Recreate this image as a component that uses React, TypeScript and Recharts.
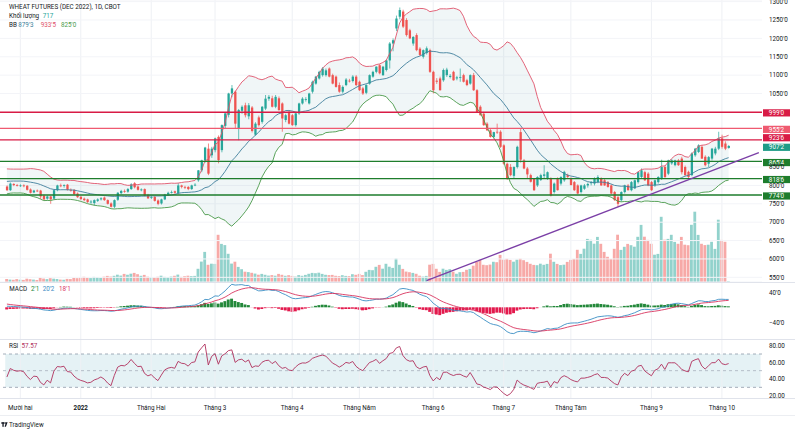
import React from 'react';
import {
  ComposedChart, Bar, Line, Area, XAxis, YAxis, CartesianGrid,
  ReferenceLine, ReferenceArea, Cell
} from 'recharts';

const FONT = "Roboto, 'Liberation Sans', Arial, sans-serif";
const FS = 6.3;
const TXT = '#131722';
const UP = '#26a69a';
const DN = '#ef5350';
const SLOTS = 225;
const PAD = { left: 5.22, right: 1.48 };

// giá đóng cửa trước vùng nhìn thấy (chỉ để chỉ báo có lịch sử)
const warmupCloses = [
  762, 768, 771, 766, 774, 779, 776, 783, 780, 786,
  792, 788, 784, 779, 783, 787, 790, 796, 801, 798,
  806, 812, 809, 818, 824, 829, 838, 844, 840, 826,
  812, 804, 798, 792, 795,
];

const opens = [
  797, 787, 804, 801, 799, 800, 799, 789, 781, 786,
  786, 772, 764, 770, 764, 787, 800, 799, 802, 788,
  788, 778, 769, 764, 762, 755, 752, 758, 762, 767,
  760, 751, 742, 761, 779, 785, 783, 790, 806, 797,
  788, 790, 774, 766, 769, 759, 751, 762, 775, 781,
  784, 779, 800, 796, 796, 790, 801, 814, 841, 868,
  900, 882, 896, 932, 896, 962, 992, 1050, 1055, 955,
  1003, 1018, 988, 1012, 938, 985, 973, 1009, 1036, 1037,
  1014, 1037, 1023, 978, 1000, 991, 964, 996, 1023, 1033,
  1023, 1055, 1077, 1091, 1100, 1100, 1118, 1100, 1096, 1073,
  1055, 1073, 1085, 1084, 1096, 1082, 1064, 1052, 1077, 1096,
  1109, 1127, 1100, 1114, 1140, 1186, 1227, 1259, 1273, 1250,
  1222, 1186, 1209, 1172, 1150, 1160, 1168, 1109, 1085, 1091,
  1086, 1100, 1095, 1109, 1091, 1093, 1100, 1086, 1077, 1100,
  1059, 1014, 995, 968, 950, 932, 946, 946, 909, 859,
  850, 826, 850, 945, 868, 846, 828, 818, 800, 815,
  826, 818, 818, 782, 818, 805, 814, 828, 818, 809,
  800, 782, 791, 800, 806, 805, 809, 818, 814, 809,
  800, 782, 768, 760, 782, 800, 787, 792, 809, 823,
  836, 832, 809, 800, 809, 818, 850, 832, 860, 855,
  868, 873, 850, 837, 828, 882, 891, 905, 878, 859,
  873, 887, 900, 928, 914, 902,
];

const highs = [
  800, 808, 806, 804, 803, 803, 801, 792, 788, 789,
  788, 775, 773, 772, 789, 802, 805, 803, 804, 792,
  790, 781, 772, 767, 764, 760, 762, 765, 768, 770,
  762, 754, 762, 782, 788, 789, 793, 806, 809, 800,
  792, 792, 777, 772, 771, 762, 764, 777, 783, 786,
  786, 806, 802, 799, 798, 802, 806, 842, 870, 905,
  914, 905, 930, 936, 966, 998, 1052, 1073, 1058, 1008,
  1018, 1025, 1024, 1016, 972, 990, 1016, 1046, 1046, 1044,
  1046, 1042, 1026, 995, 1004, 994, 998, 1025, 1040, 1040,
  1052, 1085, 1098, 1112, 1122, 1118, 1121, 1104, 1099, 1080,
  1072, 1092, 1090, 1100, 1100, 1085, 1068, 1075, 1102, 1112,
  1124, 1130, 1125, 1142, 1190, 1200, 1262, 1284, 1278, 1255,
  1226, 1206, 1214, 1176, 1170, 1178, 1172, 1112, 1092, 1096,
  1118, 1120, 1103, 1112, 1098, 1118, 1104, 1090, 1102, 1106,
  1062, 1018, 1000, 972, 954, 946, 968, 950, 912, 862,
  858, 852, 908, 955, 872, 850, 832, 820, 825, 832,
  855, 838, 822, 808, 822, 825, 840, 832, 822, 812,
  803, 802, 804, 808, 812, 822, 828, 822, 818, 812,
  803, 785, 772, 784, 802, 804, 812, 816, 838, 846,
  840, 836, 812, 816, 825, 870, 855, 870, 872, 870,
  872, 878, 854, 840, 890, 902, 912, 910, 882, 880,
  902, 905, 946, 938, 920, 910,
];

const lows = [
  785, 785, 798, 797, 796, 795, 786, 778, 779, 782,
  763, 760, 761, 750, 762, 784, 795, 794, 786, 783,
  774, 766, 760, 757, 752, 750, 745, 755, 759, 758,
  748, 740, 738, 758, 776, 780, 780, 788, 792, 786,
  784, 770, 763, 763, 756, 746, 748, 760, 772, 778,
  777, 776, 792, 790, 787, 788, 798, 810, 836, 862,
  828, 875, 890, 860, 890, 955, 985, 1040, 955, 923,
  995, 985, 980, 944, 935, 960, 968, 1005, 1030, 1012,
  1010, 1003, 946, 972, 966, 962, 960, 992, 1020, 1028,
  1020, 1050, 1074, 1088, 1096, 1096, 1094, 1075, 1066, 1052,
  1050, 1070, 1080, 1080, 1070, 1057, 1046, 1048, 1074, 1093,
  1105, 1102, 1098, 1110, 1118, 1165, 1220, 1252, 1228, 1205,
  1198, 1180, 1165, 1152, 1145, 1156, 1106, 1050, 1076, 1058,
  1082, 1095, 1091, 1085, 1086, 1082, 1080, 1070, 1074, 1057,
  998, 990, 962, 948, 930, 928, 940, 902, 856, 815,
  825, 820, 846, 862, 844, 818, 808, 785, 796, 812,
  818, 815, 770, 778, 786, 800, 810, 818, 800, 785,
  776, 778, 788, 794, 800, 800, 806, 799, 799, 794,
  776, 758, 741, 756, 778, 786, 784, 790, 805, 820,
  812, 798, 785, 796, 805, 815, 820, 828, 856, 852,
  853, 830, 826, 820, 825, 878, 888, 872, 852, 850,
  868, 882, 896, 900, 896, 900,
];

const closes = [
  787, 805, 801, 799, 800, 798, 788, 780, 786, 785,
  770, 762, 770, 762, 787, 800, 799, 801, 788, 787,
  776, 768, 763, 760, 755, 756, 760, 762, 765, 760,
  750, 742, 760, 780, 785, 784, 790, 803, 795, 788,
  789, 772, 765, 768, 758, 750, 762, 775, 780, 782,
  780, 800, 796, 795, 790, 800, 802, 841, 868, 903,
  832, 900, 928, 869, 964, 996, 1050, 1064, 968, 1005,
  1014, 991, 1018, 948, 968, 964, 1014, 1036, 1041, 1014,
  1041, 1005, 982, 991, 968, 964, 996, 1023, 1036, 1035,
  1050, 1082, 1096, 1109, 1118, 1113, 1096, 1077, 1068, 1055,
  1068, 1088, 1084, 1096, 1073, 1059, 1050, 1073, 1100, 1109,
  1123, 1105, 1123, 1140, 1186, 1195, 1254, 1277, 1232, 1209,
  1200, 1204, 1168, 1155, 1168, 1173, 1109, 1059, 1082, 1059,
  1114, 1115, 1098, 1086, 1094, 1095, 1082, 1073, 1100, 1059,
  1000, 991, 964, 950, 932, 945, 944, 905, 859, 818,
  828, 850, 905, 870, 846, 830, 810, 787, 823, 828,
  830, 836, 773, 805, 787, 823, 837, 823, 801, 787,
  778, 800, 800, 804, 809, 818, 823, 800, 800, 796,
  778, 760, 750, 782, 800, 787, 809, 814, 836, 841,
  814, 800, 787, 814, 823, 850, 823, 868, 868, 868,
  855, 836, 828, 823, 887, 900, 909, 873, 855, 877,
  900, 900, 928, 905, 900, 907.25,
];

const volumes = [
  3100, 2400, 2200, 2900, 2300, 2100, 3300, 2800, 2400, 2000,
  4200, 3400, 2900, 3800, 3300, 3000, 2400, 2200, 3100, 2900,
  4100, 3800, 4400, 5200, 4300, 3900, 5100, 4700, 4200, 5300,
  6100, 5400, 6200, 7300, 6400, 8100, 7200, 8300, 9100, 7800,
  6200, 7100, 5300, 4900, 4400, 5200, 6300, 5100, 4800, 5400,
  6200, 7400, 5100, 5800, 6300, 5900, 6100, 13200, 20400, 30100,
  17200, 18300, 18100, 47200, 38100, 36900, 28200, 18400, 20300, 15100,
  12800, 10300, 9900, 9200, 8400, 7300, 8100, 7200, 6400, 6900,
  6300, 8100, 7200, 6200, 6800, 6100, 5400, 6900, 6200, 7100,
  8200, 9100, 8800, 9300, 8100, 7200, 6900, 7100, 6200, 5900,
  6800, 6100, 5900, 7800, 7200, 8100, 6900, 10200, 12100, 11800,
  15200, 17100, 13300, 18200, 15300, 14100, 23400, 17200, 13100, 10400,
  9800, 9100, 8200, 6300, 5400, 6100, 17300, 18100, 13200, 10100,
  13300, 12100, 12800, 10300, 8200, 9800, 10100, 12200, 13100, 16300,
  20100, 22300, 17200, 16800, 17400, 20200, 19800, 27100, 22400, 23200,
  22100, 20300, 22400, 23300, 21800, 20100, 18200, 17100, 16800, 18300,
  17200, 18100, 28300, 20200, 18100, 16900, 17300, 20100, 22200, 23100,
  32200, 28100, 33300, 43100, 42200, 38300, 45100, 38200, 30100, 25200,
  23100, 33200, 47300, 32100, 35200, 38100, 36800, 35300, 45200, 57100,
  45300, 42100, 38200, 27300, 28100, 65200, 42300, 43100, 47200, 40100,
  38200, 45100, 37300, 36800, 57200, 70300, 47100, 38200, 36900, 37300,
  40200, 33100, 62300, 42100, 40200, 717,
];

const monthIdx = [4, 22, 43, 62, 85, 105, 127, 148, 168, 192, 213];
const monthLabels = ['Mười hai', '2022', 'Tháng Hai', 'Tháng 3', 'Tháng 4', 'Tháng Năm', 'Tháng 6', 'Tháng 7', 'Tháng Tám', 'Tháng 9', 'Tháng 10'];

const priceTicks = [550, 600, 650, 700, 750, 800, 850, 1050, 1100, 1150, 1200, 1250, 1300];
const levelPrices = [999, 955.25, 923.75, 865.5, 818.75, 774];
const levelColors = ['#d81b45', '#ef5a70', '#d81b45', '#1e7d2c', '#1e7d2c', '#1e7d2c'];
const levelShift = [0.6, 1, -2.2, 1.2, 1, 1];
const lastPrice = 907.25;
const trendPts = [[125, 541], [224, 889]];

const volLegend = 717;
const bbLegend = [879.375, 933.625, 825];
const macdLegend = [2.125, 20.25, 18.125];
const rsiLegend = '57.57';

// giá kiểu CBOT: 955'2 = 955 2/8
const fmt = (p: number) => {
  const neg = p < 0;
  const a = Math.abs(p);
  const f = Math.floor(a + 1e-9);
  return `${neg ? '−' : ''}${f}'${Math.round((a - f) * 8)}`;
};

const emaSeries = (src: number[], n: number) => {
  const k = 2 / (n + 1);
  const out: number[] = [];
  src.forEach((v, j) => out.push(j === 0 ? v : v * k + out[j - 1] * (1 - k)));
  return out;
};

const rsiSeries = (src: number[], n: number) => {
  const out: (number | null)[] = src.map(() => null);
  let g = 0;
  let l = 0;
  for (let j = 1; j < src.length; j++) {
    const d = src[j] - src[j - 1];
    const up = Math.max(d, 0);
    const dn = Math.max(-d, 0);
    if (j <= n) {
      g += up; l += dn;
      if (j === n) { g /= n; l /= n; out[j] = l === 0 ? 100 : 100 - 100 / (1 + g / l); }
    } else {
      g = (g * (n - 1) + up) / n;
      l = (l * (n - 1) + dn) / n;
      out[j] = l === 0 ? 100 : 100 - 100 / (1 + g / l);
    }
  }
  return out;
};

const allCloses = warmupCloses.concat(closes);
const OFF = warmupCloses.length;
const ema12 = emaSeries(allCloses, 12);
const ema26 = emaSeries(allCloses, 26);
const macdAll = ema12.map((v, j) => v - ema26[j]);
const sigAll = emaSeries(macdAll, 9);
const rsiAll = rsiSeries(allCloses, 14);

const bbAt = (j: number) => {
  const w = allCloses.slice(Math.max(0, j - 19), j + 1);
  const m = w.reduce((s, v) => s + v, 0) / w.length;
  const sd = Math.sqrt(w.reduce((s, v) => s + (v - m) * (v - m), 0) / w.length);
  return [m, m + 2 * sd, m - 2 * sd];
};

const rows = Array.from({ length: SLOTS }, (_, i) => {
  const r: any = { i, tr: null };
  const tp = trendPts.find((p) => p[0] === i);
  if (tp) r.tr = tp[1];
  if (i < closes.length) {
    const j = i + OFF;
    const [m, u, lo] = bbAt(j);
    r.o = opens[i]; r.h = highs[i]; r.l = lows[i]; r.c = closes[i]; r.v = volumes[i];
    r.bbM = m; r.bbU = u; r.bbL = lo; r.bb = [lo, u];
    r.macd = macdAll[j]; r.sig = sigAll[j]; r.hist = macdAll[j] - sigAll[j];
    r.rsi = rsiAll[j];
  }
  return r;
});

const Candle = (props: any) => {
  const { x, y, width, height, payload } = props;
  if (!payload || payload.o == null || !isFinite(y)) return null;
  const { o, h, l, c } = payload;
  const k = height / ((h - l) || 1);
  const yOf = (v: number) => y + (h - v) * k;
  const cx = x + width / 2;
  const col = c >= o ? UP : DN;
  const top = yOf(Math.max(o, c));
  const bot = yOf(Math.min(o, c));
  return (
    <g>
      <line x1={cx} x2={cx} y1={y} y2={y + height} stroke={col} strokeWidth={0.7} />
      <rect x={cx - 1.15} y={top} width={2.3} height={Math.max(bot - top, 0.8)} fill={col} />
    </g>
  );
};

const Tag = (props: any) => {
  const { viewBox, text, color, shift = 0 } = props;
  if (!viewBox) return null;
  const y = viewBox.y + shift;
  const x = viewBox.x + viewBox.width + 1;
  return (
    <g>
      <rect x={x} y={y - 3.6} width={27} height={7.2} fill={color} />
      <text x={x + 13.5} y={y + 2.2} textAnchor="middle" fontSize={FS} fill="#fff" fontFamily={FONT}>{text}</text>
    </g>
  );
};

const axisTick = (f: (v: number) => string) => (p: any) => (
  <text x={769} y={p.y + 2.2} fontSize={FS} fill={TXT} fontFamily={FONT}>{f(p.payload.value)}</text>
);

const TimeTick = (p: any) => {
  const k = monthIdx.indexOf(p.payload.value);
  const lab = monthLabels[k];
  return (
    <text x={p.x} y={70} textAnchor="middle" fontSize={FS} fill={TXT} fontFamily={FONT}
      fontWeight={lab === '2022' ? 700 : 400}>{lab}</text>
  );
};

const monthLines = () => monthIdx.map((m) => (
  <ReferenceLine key={'m' + m} x={m} stroke="#eef0f4" strokeWidth={1} />
));

const M0 = { top: 0, right: 0, bottom: 0, left: 0 };

export default function App() {
  return (
    <div style={{ position: 'absolute', left: 0, top: 0, width: 795, height: 432, background: '#fff', overflow: 'hidden', fontFamily: FONT }}>
      {/* khối lượng */}
      <div style={{ position: 'absolute', left: 0, top: 0 }}>
        <ComposedChart width={795} height={282} data={rows} margin={{ ...M0, right: 33 }}>
          <XAxis dataKey="i" type="category" scale="band" hide padding={PAD} />
          <YAxis hide domain={[0, 282000]} allowDataOverflow />
          {monthLines()}
          <Bar dataKey="v" barSize={2.8} isAnimationActive={false}>
            {rows.map((r) => (
              <Cell key={r.i} fill={r.c >= r.o ? 'rgba(38,166,154,0.5)' : 'rgba(239,83,80,0.5)'} />
            ))}
          </Bar>
        </ComposedChart>
      </div>

      {/* giá */}
      <div style={{ position: 'absolute', left: 0, top: 0 }}>
        <ComposedChart width={795} height={282} data={rows} margin={M0}>
          <CartesianGrid vertical={false} stroke="#f3f4f8" />
          <XAxis dataKey="i" type="category" scale="band" hide padding={PAD} />
          <YAxis orientation="right" width={33} domain={[537.3, 1304.4]} allowDataOverflow
            ticks={priceTicks} interval={0} tick={axisTick(fmt)} axisLine={false} tickLine={false} />
          <Area dataKey="bb" stroke="none" fill="#3d8f9a" fillOpacity={0.08} dot={false} activeDot={false} isAnimationActive={false} />
          <Line dataKey="bbU" stroke="#e0536b" strokeWidth={0.9} dot={false} activeDot={false} isAnimationActive={false} />
          <Line dataKey="bbL" stroke="#4a9a4a" strokeWidth={0.9} dot={false} activeDot={false} isAnimationActive={false} />
          <Line dataKey="bbM" stroke="#3f7f9c" strokeWidth={0.9} dot={false} activeDot={false} isAnimationActive={false} />
          {levelPrices.map((p, k) => (
            <ReferenceLine key={'lv' + k} y={p} stroke={levelColors[k]} strokeWidth={1.3}
              label={<Tag text={fmt(p)} color={levelColors[k]} shift={levelShift[k]} />} />
          ))}
          <ReferenceLine y={lastPrice} stroke={UP} strokeOpacity={0}
            label={<Tag text={fmt(lastPrice)} color="#1f9c87" shift={1.3} />} />
          <Line dataKey="tr" connectNulls stroke="#7b3fa6" strokeWidth={1.3} dot={false} activeDot={false} isAnimationActive={false} />
          <Bar dataKey={(d: any) => (d.o == null ? null : [d.l, d.h])} shape={(p: any) => <Candle {...p} />} isAnimationActive={false} />
        </ComposedChart>
      </div>

      {/* MACD */}
      <div style={{ position: 'absolute', left: 0, top: 283 }}>
        <ComposedChart width={795} height={56} data={rows} margin={M0}>
          <XAxis dataKey="i" type="category" scale="band" hide padding={PAD} />
          <YAxis orientation="right" width={33} domain={[-84.5, 64.8]} allowDataOverflow
            ticks={[40, -40]} interval={0} tick={axisTick(fmt)} axisLine={false} tickLine={false} />
          {monthLines()}
          <Bar dataKey="hist" barSize={2.9} isAnimationActive={false}>
            {rows.map((r) => (
              <Cell key={r.i} fill={r.hist >= 0 ? '#23883a' : '#e3194d'} />
            ))}
          </Bar>
          <Line dataKey="macd" stroke="#3b8ec4" strokeWidth={0.9} dot={false} activeDot={false} isAnimationActive={false} />
          <Line dataKey="sig" stroke="#d8345f" strokeWidth={0.9} dot={false} activeDot={false} isAnimationActive={false} />
        </ComposedChart>
      </div>

      {/* RSI + trục thời gian */}
      <div style={{ position: 'absolute', left: 0, top: 340 }}>
        <ComposedChart width={795} height={78} data={rows} margin={M0}>
          <XAxis dataKey="i" type="category" scale="band" padding={PAD} height={20}
            ticks={monthIdx} interval={0} tick={TimeTick} axisLine={false} tickLine={false} />
          <YAxis orientation="right" width={33} domain={[17.2, 86.8]} allowDataOverflow
            ticks={[20, 40, 60, 80]} interval={0} tick={axisTick((v) => v.toFixed(2))} axisLine={false} tickLine={false} />
          <ReferenceArea y1={30} y2={70} fill="#cfe8ec" fillOpacity={0.55} stroke="none" />
          {monthLines()}
          <ReferenceLine y={70} stroke="#8e99a8" strokeDasharray="3 3" strokeWidth={0.8} />
          <ReferenceLine y={50} stroke="#a7b0bd" strokeDasharray="3 3" strokeWidth={0.8} />
          <ReferenceLine y={30} stroke="#8e99a8" strokeDasharray="3 3" strokeWidth={0.8} />
          <Line dataKey="rsi" stroke="#b0305c" strokeWidth={0.9} dot={false} activeDot={false} isAnimationActive={false} />
        </ComposedChart>
      </div>

      <svg width={795} height={432} style={{ position: 'absolute', left: 0, top: 0, pointerEvents: 'none' }} fontFamily={FONT} fontSize={FS}>
        <line x1={0} x2={795} y1={282.5} y2={282.5} stroke="#e0e3eb" />
        <line x1={0} x2={795} y1={339.5} y2={339.5} stroke="#e0e3eb" />
        <line x1={0} x2={795} y1={398.5} y2={398.5} stroke="#e0e3eb" />
        <line x1={0} x2={795} y1={415.5} y2={415.5} stroke="#eceef2" />

        <text x={9} y={9} fill={TXT}>WHEAT FUTURES (DEC 2022), 1D, CBOT</text>
        <text x={9} y={17.5} fill={TXT}>Khối lượng</text>
        <text x={42.7} y={17.5} fill={UP}>{volLegend}</text>
        <text x={9} y={26.5} fill={TXT}>BB</text>
        <text x={18.3} y={26.5} fill="#3f7f9c">{fmt(bbLegend[0])}</text>
        <text x={40.7} y={26.5} fill="#e0536b">{fmt(bbLegend[1])}</text>
        <text x={61} y={26.5} fill="#4a9a4a">{fmt(bbLegend[2])}</text>

        <text x={9.3} y={290.5} fill={TXT}>MACD</text>
        <text x={31} y={290.5} fill="#23883a">{fmt(macdLegend[0])}</text>
        <text x={42.7} y={290.5} fill="#3b8ec4">{fmt(macdLegend[1])}</text>
        <text x={59} y={290.5} fill="#d8345f">{fmt(macdLegend[2])}</text>

        <text x={9} y={347.5} fill={TXT}>RSI</text>
        <text x={21.5} y={347.5} fill="#b0305c">{rsiLegend}</text>

        <g fill={TXT}>
          <rect x={1.3} y={422.3} width={3.2} height={1.4} />
          <rect x={2.4} y={422.3} width={1.3} height={4.5} />
          <circle cx={5.3} cy={423} r={0.7} />
          <polygon points="6,422.3 7.6,422.3 5.9,426.8 4.6,426.8" />
        </g>
        <text x={9} y={426.8} fill={TXT}>TradingView</text>
      </svg>
    </div>
  );
}
